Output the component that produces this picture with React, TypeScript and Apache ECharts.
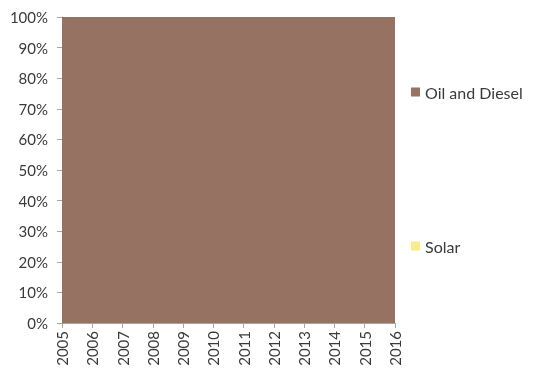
import React, { useEffect, useRef } from "react";
import * as echarts from "echarts";

const years = ["2005", "2006", "2007", "2008", "2009", "2010", "2011", "2012", "2013", "2014", "2015", "2016"];
const oilAndDiesel = [100, 100, 100, 100, 100, 100, 100, 100, 100, 100, 100, 100];
const solar = [0, 0, 0, 0, 0, 0, 0, 0, 0, 0, 0, 0];

const FONT = "Lato, 'Noto Sans', sans-serif";
const TEXT = "#3a3a3a";

export default function App() {
  const ref = useRef<HTMLDivElement>(null);
  useEffect(() => {
    if (!ref.current) return;
    const chart = echarts.init(ref.current, undefined, { renderer: "svg" });
    chart.setOption({
      animation: false,
      grid: { left: 62, right: 153, top: 17, bottom: 54 },
      legend: [
        {
          data: ["Oil and Diesel"],
          left: 406,
          top: 79,
          orient: "vertical",
          icon: "rect",
          itemWidth: 9,
          itemHeight: 9,
          itemGap: 8,
          textStyle: { color: TEXT, fontSize: 16, fontFamily: FONT },
        },
        {
          data: ["Solar"],
          left: 406,
          top: 233,
          orient: "vertical",
          icon: "rect",
          itemWidth: 9,
          itemHeight: 9,
          itemGap: 8,
          textStyle: { color: TEXT, fontSize: 16, fontFamily: FONT },
        },
      ],
      xAxis: {
        type: "category",
        data: years,
        boundaryGap: false,
        axisLine: { lineStyle: { color: "#a6a6a6" } },
        axisTick: { show: true, length: 5, lineStyle: { color: "#a6a6a6" }, alignWithLabel: true },
        axisLabel: { rotate: 90, color: TEXT, fontSize: 15, fontFamily: FONT, margin: 8, interval: 0 },
        splitLine: { show: false },
      },
      yAxis: {
        type: "value",
        min: 0,
        max: 100,
        interval: 10,
        axisLine: { show: true, lineStyle: { color: "#a6a6a6" } },
        axisTick: { show: true, length: 5, lineStyle: { color: "#a6a6a6" } },
        axisLabel: { formatter: "{value}%", color: TEXT, fontSize: 15, fontFamily: FONT, margin: 14 },
        splitLine: { show: false },
      },
      series: [
        {
          name: "Oil and Diesel",
          type: "line",
          stack: "total",
          data: oilAndDiesel,
          symbol: "none",
          lineStyle: { width: 0 },
          areaStyle: { color: "#967262", opacity: 1 },
          itemStyle: { color: "#967262" },
        },
        {
          name: "Solar",
          type: "line",
          stack: "total",
          data: solar,
          symbol: "none",
          lineStyle: { width: 0 },
          areaStyle: { color: "#f8ec8c", opacity: 1 },
          itemStyle: { color: "#f8ec8c" },
        },
      ],
    });
    return () => chart.dispose();
  }, []);
  return <div ref={ref} style={{ position: "fixed", left: 0, top: 0, width: 548, height: 377 }} />;
}
